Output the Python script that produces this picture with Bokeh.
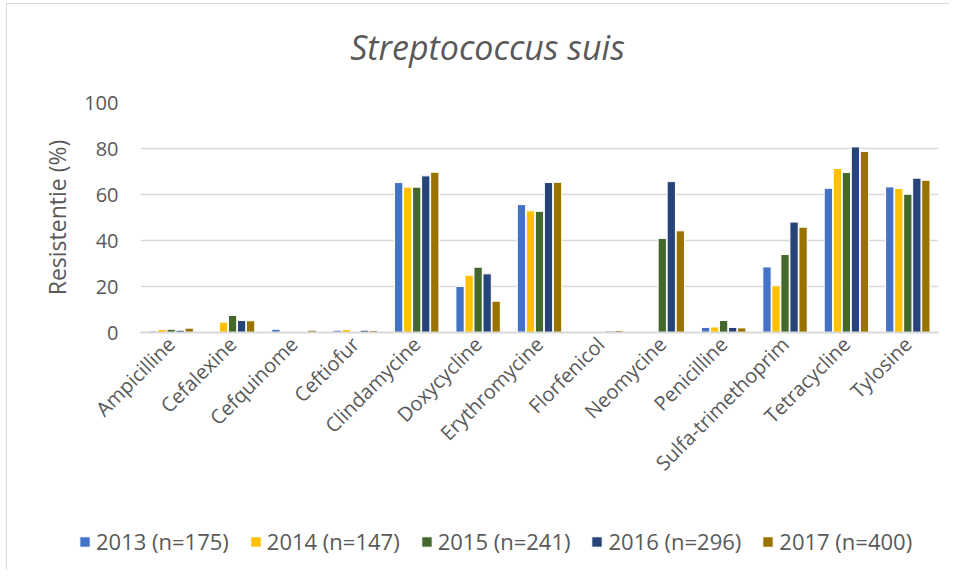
import math
from bokeh.plotting import figure
from bokeh.layouts import column
from bokeh.models import (ColumnDataSource, Legend, LegendItem, Range1d, FixedTicker, Label)
from bokeh.transform import dodge
from bokeh.embed import file_html
from bokeh.resources import INLINE

categories = ["Ampicilline", "Cefalexine", "Cefquinome", "Ceftiofur", "Clindamycine",
              "Doxycycline", "Erythromycine", "Florfenicol", "Neomycine", "Penicilline",
              "Sulfa-trimethoprim", "Tetracycline", "Tylosine"]

y2013 = [0.6, 0.0, 1.4, 1.0, 65.2, 20.0, 55.6, 0.0, 0.0, 2.2, 28.5, 62.7, 63.3]
y2014 = [1.3, 4.5, 0.0, 1.3, 63.2, 24.9, 52.9, 0.0, 0.0, 2.4, 20.3, 71.3, 62.6]
y2015 = [1.4, 7.4, 0.0, 0.0, 63.2, 28.4, 52.7, 0.0, 40.9, 5.2, 33.9, 69.6, 60.1]
y2016 = [1.0, 5.2, 0.0, 1.0, 68.1, 25.5, 65.2, 0.6, 65.6, 2.2, 48.0, 80.7, 67.1]
y2017 = [1.9, 5.1, 1.0, 0.9, 69.7, 13.6, 65.3, 0.9, 44.2, 2.0, 45.8, 78.7, 66.2]

series_labels = ["2013 (n=175)", "2014 (n=147)", "2015 (n=241)", "2016 (n=296)", "2017 (n=400)"]
series_cols = ["y2013", "y2014", "y2015", "y2016", "y2017"]
colors = ["#4472C4", "#FFC000", "#43682B", "#264478", "#997300"]
y_ticks = [0, 20, 40, 60, 80, 100]
title_text = "Streptococcus suis"

source = ColumnDataSource(dict(cat=categories, y2013=y2013, y2014=y2014,
                               y2015=y2015, y2016=y2016, y2017=y2017))

FONT = "Open Sans"
TXT = "#595959"
W = 942

# ---- title strip ----
p0 = figure(width=W, height=70, x_range=Range1d(0, 1), y_range=Range1d(0, 1),
            output_backend="svg", toolbar_location=None,
            x_axis_location=None, y_axis_location=None, min_border=0)
p0.frame_align = False
p0.outline_line_color = None
p0.grid.grid_line_color = None
p0.add_layout(Label(x=0.5096, y=0.4, text=title_text,
                    text_align="center", text_baseline="middle", text_font=FONT,
                    text_font_style="italic", text_font_size="34px", text_color=TXT))

# ---- main chart ----
p = figure(x_range=categories, y_range=Range1d(0, 100), width=W, height=418,
           output_backend="svg", toolbar_location=None,
           min_border_left=133, min_border_right=11, min_border_top=28, min_border_bottom=160)
p.frame_align = False

offsets = [-0.294, -0.147, 0.0, 0.147, 0.294]
for col, colr, off in zip(series_cols, colors, offsets):
    p.vbar(x=dodge("cat", off, range=p.x_range), top=col, width=0.135, source=source,
           fill_color=colr, line_color="white", line_width=1)

p.outline_line_color = None
p.xgrid.grid_line_color = None
p.ygrid.grid_line_color = "#d9d9d9"
p.ygrid.grid_line_width = 1.5
p.yaxis.ticker = FixedTicker(ticks=y_ticks)

p.yaxis.axis_line_color = None
p.yaxis.major_tick_line_color = None
p.yaxis.minor_tick_line_color = None
p.yaxis.major_tick_out = 0
p.yaxis.major_tick_in = 0
p.yaxis.major_label_standoff = 22
p.yaxis.major_label_text_font = FONT
p.yaxis.major_label_text_font_size = "20px"
p.yaxis.major_label_text_color = TXT
p.yaxis.axis_label = "Resistentie (%)"
p.yaxis.axis_label_text_font = FONT
p.yaxis.axis_label_text_font_size = "23px"
p.yaxis.axis_label_text_font_style = "normal"
p.yaxis.axis_label_text_color = TXT
p.yaxis.axis_label_standoff = 8

p.xaxis.axis_line_color = "#d9d9d9"
p.xaxis.axis_line_width = 2
p.xaxis.major_tick_line_color = None
p.xaxis.major_tick_out = 0
p.xaxis.major_tick_in = 0
p.xaxis.major_label_orientation = math.pi / 4
p.xaxis.major_label_standoff = 8
p.xaxis.major_label_text_font = FONT
p.xaxis.major_label_text_font_size = "20px"
p.xaxis.major_label_text_color = TXT

# ---- legend strip (series bars fall outside this strip's y-range, only legend shows) ----
p2 = figure(width=W, height=78, x_range=p.x_range, y_range=Range1d(200, 300),
            output_backend="svg", toolbar_location=None,
            x_axis_location=None, y_axis_location=None, min_border=0)
p2.frame_align = False
p2.outline_line_color = None
p2.grid.grid_line_color = None
items = []
for col, lab, colr, off in zip(series_cols, series_labels, colors, offsets):
    r = p2.vbar(x=dodge("cat", off, range=p.x_range), top=col, width=0.135, source=source,
                fill_color=colr, line_color="white", line_width=1)
    items.append(LegendItem(label=lab, renderers=[r]))
legend = Legend(items=items, orientation="horizontal", location=(71, 14),
                glyph_width=13, glyph_height=13, label_standoff=5, spacing=20,
                padding=0, margin=0, border_line_color=None, background_fill_alpha=0,
                label_text_font=FONT, label_text_font_size="22px", label_text_color=TXT)
p2.add_layout(legend, "center")

layout = column(p0, p, p2, spacing=0)
layout.styles = {"border-top": "1px solid #d9d9d9", "border-left": "1px solid #d9d9d9",
                 "margin-left": "6px", "margin-top": "3px"}

open("out.html", "w").write(file_html(layout, INLINE))
